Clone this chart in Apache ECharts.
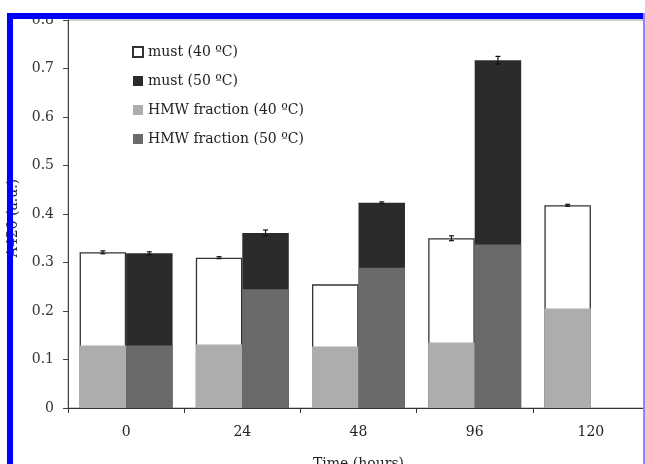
<!DOCTYPE html>
<html>
<head>
<meta charset="utf-8">
<script src="https://cdn.jsdelivr.net/npm/echarts@6/dist/echarts.min.js"></script>
<style>
html,body{margin:0;padding:0;background:#fff;}
#c{width:645px;height:464px;}
</style>
</head>
<body>
<div id="c"></div>
<script>
const categories = ['0', '24', '48', '96', '120'];
const must40 = [0.321, 0.310, 0.255, 0.350, 0.418];
const must50 = [0.319, 0.361, 0.423, 0.717, null];
const hmw40 = [0.129, 0.131, 0.127, 0.135, 0.205];
const hmw50 = [0.129, 0.245, 0.289, 0.337, null];
const err40 = [0.003, 0.002, 0.0, 0.005, 0.002];
const err50 = [0.003, 0.006, 0.002, 0.008, 0];
const yTicks = [0, 0.1, 0.2, 0.3, 0.4, 0.5, 0.6, 0.7, 0.8];

const FONT = 'DejaVu Serif';
const errData = [];
categories.forEach((c, i) => {
  if (must40[i] != null && err40[i] > 0) errData.push([i, must40[i], err40[i], -1]);
  if (must50[i] != null && err50[i] > 0) errData.push([i, must50[i], err50[i], 1]);
});

const chart = echarts.init(document.getElementById('c'));
chart.setOption({
  animation: false,
  backgroundColor: '#fff',
  grid: {left: 68, right: -4, top: 20, bottom: 56, outerBoundsMode: 'none', containLabel: false,
    show: true, borderColor: '#999', borderWidth: 1, backgroundColor: 'transparent'},
  legend: {
    orient: 'vertical', left: 127, top: 40, itemWidth: 10, itemHeight: 10, itemGap: 15, icon: 'rect',
    data: ['must (40 ºC)', 'must (50 ºC)', 'HMW fraction (40 ºC)', 'HMW fraction (50 ºC)'],
    textStyle: {fontFamily: FONT, fontSize: 14, color: '#222'}
  },
  xAxis: [{
    type: 'category', data: categories, boundaryGap: true,
    axisLine: {lineStyle: {color: '#333', width: 1}},
    axisTick: {show: true, length: 5, lineStyle: {color: '#333'}},
    axisLabel: {fontFamily: FONT, fontSize: 14, color: '#222', margin: 17},
    name: 'Time (hours)', nameLocation: 'middle', nameGap: 49,
    nameTextStyle: {fontFamily: FONT, fontSize: 14, color: '#222'}
  }, {
    type: 'category', data: categories, show: false
  }],
  yAxis: {
    type: 'value', min: 0, max: 0.8, interval: 0.1,
    splitLine: {show: false},
    axisLine: {show: true, lineStyle: {color: '#444'}},
    axisTick: {show: true, length: 5, lineStyle: {color: '#444'}},
    axisLabel: {fontFamily: FONT, fontSize: 14, color: '#333', margin: 14,
      formatter: v => { const t = yTicks.find(x => Math.abs(x - v) < 1e-9); return String(t != null ? t : v); }},
    name: 'A420 (a.u.)', nameLocation: 'middle', nameGap: 47, nameRotate: 90,
    nameTextStyle: {fontFamily: FONT, fontSize: 14, color: '#222', padding: [0, 8, 0, 0]}
  },
  series: [
    {name: 'must (40 ºC)', type: 'bar', xAxisIndex: 0, data: must40, barWidth: '40%', barGap: '0%',
      itemStyle: {color: '#ffffff', borderColor: '#333', borderWidth: 1.3}},
    {name: 'must (50 ºC)', type: 'bar', xAxisIndex: 0, data: must50, barWidth: '40%', barGap: '0%',
      itemStyle: {color: '#2b2b2b'}},
    {name: 'HMW fraction (40 ºC)', type: 'bar', xAxisIndex: 1, data: hmw40, barWidth: '40%', barGap: '0%',
      itemStyle: {color: '#adadad'}, z: 3},
    {name: 'HMW fraction (50 ºC)', type: 'bar', xAxisIndex: 1, data: hmw50, barWidth: '40%', barGap: '0%',
      itemStyle: {color: '#6a6a6a'}, z: 3},
    {type: 'custom', xAxisIndex: 0, yAxisIndex: 0, data: errData, z: 5, silent: true,
      renderItem: function (params, api) {
        const i = api.value(0), v = api.value(1), e = api.value(2), side = api.value(3);
        const band = api.size([1, 0])[0];
        const off = side * band * 0.2;
        const top = api.coord([i, v + e]);
        const bot = api.coord([i, v - e]);
        const x = top[0] + off;
        const style = {stroke: '#111', lineWidth: 1.2};
        return {type: 'group', children: [
          {type: 'line', shape: {x1: x, y1: top[1], x2: x, y2: bot[1]}, style: style},
          {type: 'line', shape: {x1: x - 2.5, y1: top[1], x2: x + 2.5, y2: top[1]}, style: style},
          {type: 'line', shape: {x1: x - 2.5, y1: bot[1], x2: x + 2.5, y2: bot[1]}, style: style}
        ]};
      }
    }
  ],
  graphic: [
    {type: 'rect', shape: {x: 7, y: 13, width: 640, height: 6}, style: {fill: '#0000ff'}, z: 100},
    {type: 'rect', shape: {x: 7, y: 13, width: 6, height: 460}, style: {fill: '#0000ff'}, z: 100},
    {type: 'rect', shape: {x: 643, y: 13, width: 2, height: 460}, style: {fill: '#8888ff'}, z: 100}
  ]
});
</script>
</body>
</html>
